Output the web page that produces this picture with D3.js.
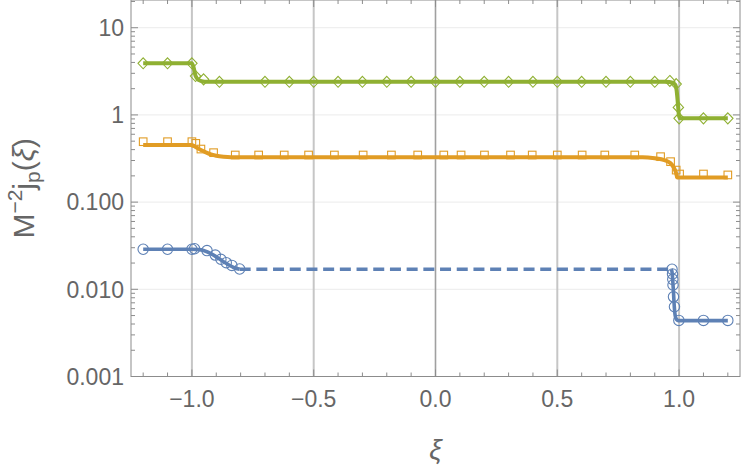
<!DOCTYPE html>
<html>
<head>
<meta charset="utf-8">
<script src="https://cdn.jsdelivr.net/npm/d3@7"></script>
<style>
  body { margin: 0; background: #fff; }
  svg { display: block; }
  text { font-family: "Liberation Sans", Arial, sans-serif; }
</style>
</head>
<body>
<script>
// ---- data ----
var xTickVals = [-1.0, -0.5, 0.0, 0.5, 1.0];
var xTickLabels = ["\u22121.0", "\u22120.5", "0.0", "0.5", "1.0"];
var yTickVals = [0.001, 0.01, 0.1, 1, 10];
var yTickLabels = ["0.001", "0.010", "0.100", "1", "10"];

// green: diamonds + curve
var greenMarkXi  = [-1.2, -1.1, -1.0, -0.985, -0.952, -0.887, -0.7, -0.6, -0.5, -0.4, -0.3, -0.2, -0.1, 0.0, 0.1, 0.2, 0.3, 0.4, 0.5, 0.6, 0.7, 0.8, 0.9, 0.962, 0.988, 0.997, 1.0, 1.1, 1.2];
var greenMarkVal = [3.91, 3.91, 3.91, 2.79, 2.56, 2.40, 2.40, 2.40, 2.40, 2.40, 2.40, 2.40, 2.40, 2.40, 2.40, 2.40, 2.40, 2.40, 2.40, 2.40, 2.40, 2.40, 2.40, 2.45, 2.26, 1.22, 0.914, 0.914, 0.914];
var greenLineXi  = [-1.2, -1.0, -0.993, -0.985, -0.973, -0.955, -0.94, 0.94, 0.96, 0.975, 0.985, 0.99, 0.995, 0.999, 1.003, 1.2];
var greenLineVal = [3.91, 3.91, 3.5, 2.8, 2.52, 2.42, 2.40, 2.40, 2.38, 2.32, 2.2, 1.9, 1.35, 1.0, 0.914, 0.914];

// orange: squares + curve
var orangeMarkXi  = [-1.2, -1.1, -1.0, -0.984, -0.963, -0.911, -0.822, -0.726, -0.621, -0.521, -0.415, -0.297, -0.181, -0.073, 0.034, 0.105, 0.201, 0.308, 0.397, 0.5, 0.602, 0.695, 0.818, 0.924, 0.965, 0.988, 1.002, 1.1, 1.2];
var orangeMarkVal = [0.493, 0.493, 0.493, 0.472, 0.406, 0.369, 0.347, 0.347, 0.347, 0.347, 0.347, 0.347, 0.347, 0.347, 0.347, 0.347, 0.347, 0.347, 0.347, 0.347, 0.347, 0.347, 0.347, 0.332, 0.291, 0.233, 0.210, 0.210, 0.205];
var orangeLineXi  = [-1.2, -1.0, -0.985, -0.963, -0.94, -0.925, -0.9, -0.87, -0.84, 0.85, 0.9, 0.94, 0.965, 0.978, 0.986, 0.993, 1.2];
var orangeLineVal = [0.452, 0.452, 0.43, 0.395, 0.37, 0.355, 0.340, 0.331, 0.327, 0.327, 0.318, 0.303, 0.279, 0.25, 0.223, 0.191, 0.191];

// blue: circles + curve (dashed across the middle)
var blueMarkXi  = [-1.2, -1.1, -1.0, -0.989, -0.938, -0.904, -0.881, -0.859, -0.836, -0.804, 0.971, 0.973, 0.974, 0.975, 0.977, 0.981, 0.999, 1.1, 1.2];
var blueMarkVal = [0.0288, 0.0288, 0.0288, 0.0292, 0.0278, 0.0247, 0.0221, 0.0202, 0.0188, 0.0171, 0.0170, 0.0150, 0.0130, 0.0112, 0.0082, 0.0063, 0.0044, 0.0044, 0.0044];
var blueLeftXi   = [-1.2, -1.0, -0.97, -0.952, -0.911, -0.870, -0.829, -0.804];
var blueLeftVal  = [0.0288, 0.0288, 0.0285, 0.0278, 0.0247, 0.0207, 0.0178, 0.0170];
var blueDashXi   = [-0.804, 0.968];
var blueDashVal  = [0.0170, 0.0170];
var blueRightXi  = [0.968, 0.971, 0.974, 0.977, 0.980, 0.984, 0.99, 0.997, 1.2];
var blueRightVal = [0.0170, 0.0158, 0.0125, 0.0092, 0.0065, 0.0050, 0.0045, 0.00437, 0.00437];

var blue = "#5e81b5", orange = "#e19c24", green = "#8fb032";

// ---- layout ----
var width = 750, height = 469;
var pLeft = 131, pRight = 740, pTop = 0, pBottom = 376.5;

var svg = d3.select("body").append("svg")
    .attr("width", width)
    .attr("height", height);

var x = d3.scaleLinear().domain([-1.25, 1.25]).range([pLeft, pRight]);
var y = d3.scaleLog().domain([0.001, Math.pow(10, 1.318)]).range([pBottom, pTop]);

function zip(a, b) { return a.map(function(v, i) { return [v, b[i]]; }); }

// grid
svg.append("g").selectAll("line")
  .data(yTickVals.slice(1))
  .enter().append("line")
    .attr("x1", pLeft).attr("x2", pRight)
    .attr("y1", d => y(d)).attr("y2", d => y(d))
    .attr("stroke", "#ebebeb").attr("stroke-width", 1);

svg.append("g").selectAll("line")
  .data(xTickVals)
  .enter().append("line")
    .attr("x1", d => x(d)).attr("x2", d => x(d))
    .attr("y1", pTop).attr("y2", pBottom)
    .attr("stroke", d => d === 0 ? "#a0a0a0" : "#c6c6c6")
    .attr("stroke-width", d => d === 0 ? 1.6 : 2);

// frame + ticks
var axisCol = "#8c8c8c";
var xMinor = d3.range(-12, 13).map(d => d / 10);
var yMinor = [];
[0.001, 0.01, 0.1, 1, 10].forEach(function(dec) {
  for (var m = 2; m <= 9; m++) if (dec * m < y.domain()[1]) yMinor.push(dec * m);
});

var tk = svg.append("g").attr("stroke", axisCol).attr("stroke-width", 1);
xMinor.forEach(function(v) {
  var major = xTickVals.some(t => Math.abs(t - v) < 1e-9);
  var len = major ? 7 : 4;
  tk.append("line").attr("x1", x(v)).attr("x2", x(v)).attr("y1", pBottom).attr("y2", pBottom - len);
  tk.append("line").attr("x1", x(v)).attr("x2", x(v)).attr("y1", pTop).attr("y2", pTop + len);
});
yTickVals.concat(yMinor).forEach(function(v) {
  var len = yTickVals.indexOf(v) >= 0 ? 7 : 4;
  tk.append("line").attr("x1", pLeft).attr("x2", pLeft + len).attr("y1", y(v)).attr("y2", y(v));
  tk.append("line").attr("x1", pRight).attr("x2", pRight - len).attr("y1", y(v)).attr("y2", y(v));
});
svg.append("rect")
    .attr("x", pLeft).attr("y", pTop)
    .attr("width", pRight - pLeft).attr("height", pBottom - pTop)
    .attr("fill", "none").attr("stroke", axisCol).attr("stroke-width", 1);

// tick labels
svg.append("g").selectAll("text")
  .data(xTickVals)
  .enter().append("text")
    .attr("x", d => x(d)).attr("y", 406.5)
    .attr("text-anchor", "middle")
    .attr("font-size", 23).attr("fill", "#666")
    .text((d, i) => xTickLabels[i]);

svg.append("g").selectAll("text")
  .data(yTickVals)
  .enter().append("text")
    .attr("x", 124).attr("y", d => y(d))
    .attr("dy", "0.36em")
    .attr("text-anchor", "end")
    .attr("font-size", 23).attr("fill", "#666")
    .text((d, i) => yTickLabels[i]);

// axis titles
svg.append("text")
    .attr("x", (pLeft + pRight) / 2).attr("y", 459)
    .attr("text-anchor", "middle")
    .attr("font-size", 28).attr("font-style", "italic").attr("fill", "#666")
    .text("\u03be");

var yl = svg.append("text")
    .attr("transform", "translate(34," + ((pTop + pBottom) / 2) + ") rotate(-90)")
    .attr("text-anchor", "middle")
    .attr("font-size", 30).attr("fill", "#666");
yl.append("tspan").text("M");
yl.append("tspan").attr("font-size", 21).attr("dy", -12).text("\u22122");
yl.append("tspan").attr("dy", 12).text("j");
yl.append("tspan").attr("font-size", 21).attr("dy", 6).text("p");
yl.append("tspan").attr("dy", -6).text("(");
yl.append("tspan").attr("font-style", "italic").text("\u03be");
yl.append("tspan").text(")");

// curves
var line = d3.line()
    .x(d => x(d[0]))
    .y(d => y(d[1]))
    .curve(d3.curveMonotoneX);

function drawLine(xs, vs, col, w, dash) {
  svg.append("path")
      .datum(zip(xs, vs))
      .attr("fill", "none")
      .attr("stroke", col)
      .attr("stroke-width", w)
      .attr("stroke-dasharray", dash || null)
      .attr("d", line);
}
drawLine(greenLineXi, greenLineVal, green, 4);
drawLine(orangeLineXi, orangeLineVal, orange, 4);
drawLine(blueLeftXi, blueLeftVal, blue, 3.6);
drawLine(blueDashXi, blueDashVal, blue, 3.6, "11,5.7");
drawLine(blueRightXi, blueRightVal, blue, 3.6);

// markers
svg.append("g").selectAll("path")
  .data(zip(greenMarkXi, greenMarkVal))
  .enter().append("path")
    .attr("transform", d => "translate(" + x(d[0]) + "," + y(d[1]) + ")")
    .attr("d", "M0,-5.5L5.2,0L0,5.5L-5.2,0Z")
    .attr("fill", "none").attr("stroke", green).attr("stroke-width", 1.1);

svg.append("g").selectAll("rect")
  .data(zip(orangeMarkXi, orangeMarkVal))
  .enter().append("rect")
    .attr("x", d => x(d[0]) - 3.8).attr("y", d => y(d[1]) - 3.8)
    .attr("width", 7.6).attr("height", 7.6)
    .attr("fill", "none").attr("stroke", orange).attr("stroke-width", 1.1);

svg.append("g").selectAll("circle")
  .data(zip(blueMarkXi, blueMarkVal))
  .enter().append("circle")
    .attr("cx", d => x(d[0])).attr("cy", d => y(d[1]))
    .attr("r", 5.2)
    .attr("fill", "none").attr("stroke", blue).attr("stroke-width", 1.1);
</script>
</body>
</html>
